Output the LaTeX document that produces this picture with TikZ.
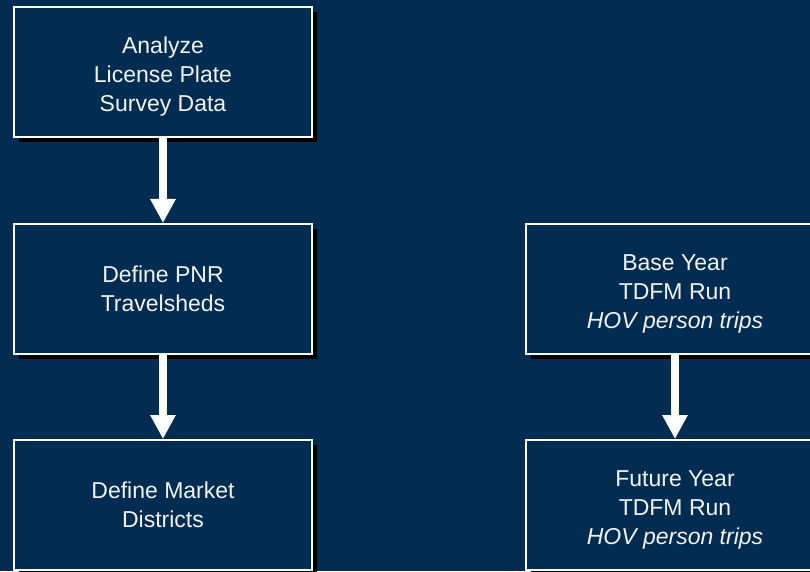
\documentclass[tikz,border=0pt]{standalone}
\usepackage{fontspec}
\setmainfont{Liberation Sans}
\usetikzlibrary{positioning, shadows, arrows.meta, backgrounds}
\definecolor{navy}{RGB}{3,44,83}
\definecolor{paper}{RGB}{242,242,242}

\begin{document}
\begin{tikzpicture}[x=1pt, y=1pt,
    box/.style={draw=white, line width=2pt, fill=navy, text=paper,
        minimum width=298pt, minimum height=130pt, align=center,
        font=\fontsize{23}{29}\selectfont,
        drop shadow={shadow xshift=5pt, shadow yshift=-5pt, fill=black, opacity=1}},
    three lines/.style={text height=83pt},
    flow/.style={white, line width=8pt, -{Triangle[width=24pt, length=24pt]}},
    node distance = 84pt]
		\useasboundingbox (0,0) rectangle (810,571);
		\fill[navy] (0,0) rectangle (810,571);
		\node (analyze) [box, three lines] at (163,499) {Analyze\\License Plate\\Survey Data};
		\node (travelsheds) [box, below=85pt of analyze] {Define PNR\\Travelsheds};
		\node (districts) [box, below= of travelsheds] {Define Market\\Districts};
		\node (base run) [box, three lines, right=212pt of travelsheds] {Base Year\\TDFM Run\\\textit{HOV person trips}};
		\node (future run) [box, three lines, below= of base run] {Future Year\\TDFM Run\\\textit{HOV person trips}};
		\draw[flow] (analyze) -- (travelsheds);
		\draw[flow] (travelsheds) -- (districts);
		\draw[flow] (base run) -- (future run);
\end{tikzpicture}
\end{document}
